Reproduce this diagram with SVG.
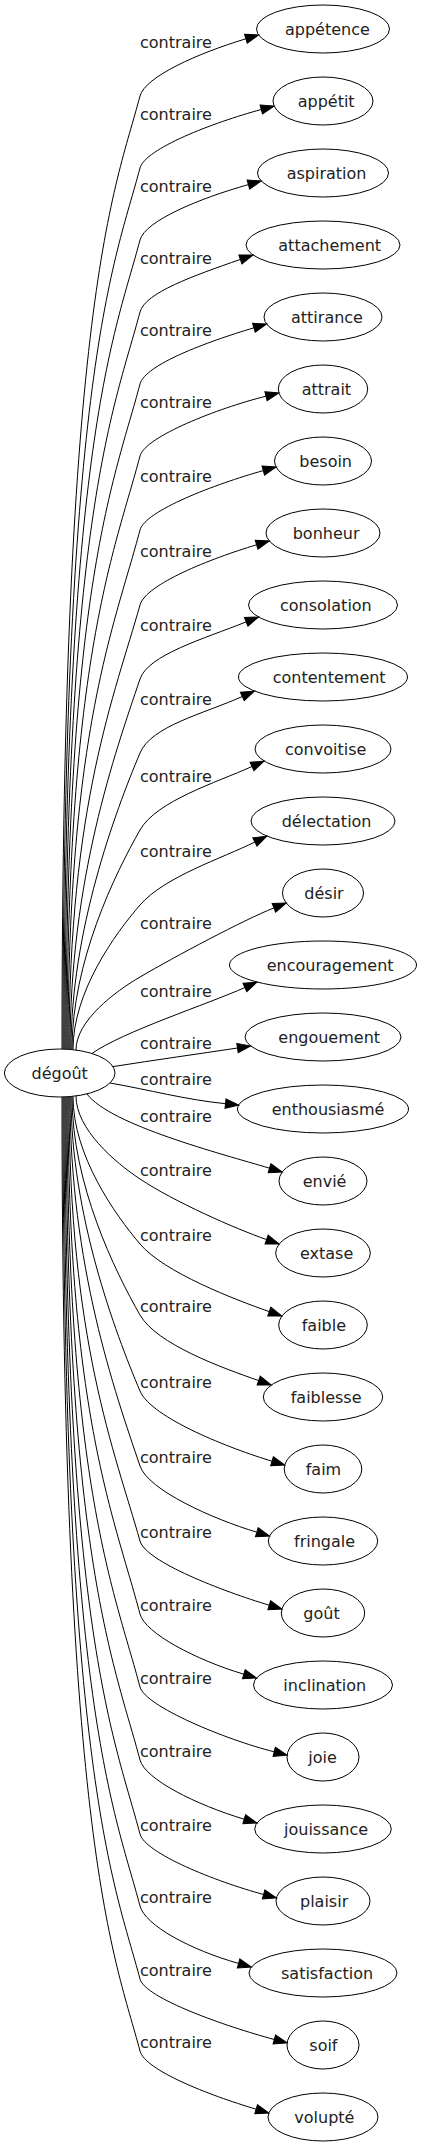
<svg xmlns="http://www.w3.org/2000/svg" width="422" height="2147" viewBox="0 0 422 2147">
<style>
.n ellipse{fill:none;stroke:#000;stroke-width:1}
text{font-family:"DejaVu Sans",sans-serif;font-size:16px;fill:#222}
#edges path{fill:none;stroke:#000;stroke-width:1;marker-end:url(#arr)}
</style>
<defs>
<marker id="arr" markerUnits="userSpaceOnUse" markerWidth="15" markerHeight="11" refX="0" refY="4.67" orient="auto" overflow="visible">
<path d="M0,0 L13.3,4.67 L0,9.33 Z" fill="#000" stroke="#000" stroke-width="1"/>
</marker>
</defs>
<rect width="422" height="2147" fill="#fff"/>
<g id="edges">
<path d="M62,1049 C62,296 115,191 140,96 C145.1,76.7 198,53.2 245.9,38.8"/>
<path d="M63,1049 C63,368 115,263 140,168 C145.1,148.7 213.05,122.55 261.3,109.5"/>
<path d="M64,1049 C64,440 115,335 140,240 C145.1,220.7 200.25,198.1 248.4,184.6"/>
<path d="M65,1049 C65,512 115,407 140,312 C145.1,292.7 193.2,275.9 240.4,259.4"/>
<path d="M66,1049 C66,584 115,479 140,384 C145.1,364.7 206,342.15 253.9,327.8"/>
<path d="M67,1049 C67,656 115,551 140,456 C145.1,436.7 217.5,408.3 266,396.2"/>
<path d="M68,1049 C68,730 115,625 140,530 C145.1,510.7 215.15,484.1 263.3,470.6"/>
<path d="M69,1049.5 C69,805 115,693.9 140,605 C145.85,584.2 209.95,558.8 256.6,544.8"/>
<path d="M70,1049.5 C70,879 115,753.1 140,679 C148.2,654.8 203.9,638.8 246.2,621.9"/>
<path d="M71,1049.5 C71,930.9 115,812.3 140,753 C151.4,725.9 203.5,713.9 242.3,696.5"/>
<path d="M72,1049.5 C72,961.7 115,873.9 140,830 C156.6,800.9 216.25,782.6 252,766.5"/>
<path d="M73,1049.5 C73,991.7 115,933.9 140,905 C164.5,876.7 222.6,858.1 254.9,842"/>
<path d="M76,1050 C76,1020.8 115,991.6 140,977 C175.6,956.2 243.2,920.2 273.9,907.9"/>
<path d="M92,1053.5 C122,1032 208.4,1003.9 244.9,987.5"/>
<path d="M113,1066.6 C155,1060 197.9,1054 237.5,1048"/>
<path d="M110,1083 C150,1090 185.7,1099.7 225.5,1103.7"/>
<path d="M87,1094 C110,1125 221.6,1153.8 269.5,1168.2"/>
<path d="M76,1096 C76,1129.2 115,1162.4 140,1179 C173.8,1201.5 235,1228.55 266.6,1239.6"/>
<path d="M73,1096.5 C73,1155.5 115,1214.5 140,1244 C164,1272.4 235.1,1299.7 269.3,1311.6"/>
<path d="M72,1096.5 C72,1183.9 115,1271.3 140,1315 C156.6,1344.1 221.7,1367.7 258.7,1380.6"/>
<path d="M71,1096.5 C71,1214.3 115,1332.1 140,1391 C151.5,1418.2 231.4,1449 272,1461.2"/>
<path d="M70,1096.5 C70,1266 115,1392.1 140,1466 C148.2,1490.2 213.1,1519.1 256.8,1532.2"/>
<path d="M69,1096.5 C69,1341 115,1452.1 140,1541 C145.85,1561.8 222.55,1591.2 269.2,1605.2"/>
<path d="M68,1097 C68,1414 115,1519 140,1614 C145.1,1633.3 195.9,1659.85 243.8,1674.2"/>
<path d="M67,1097 C67,1487 115,1592 140,1687 C145.1,1706.3 225.7,1739.7 274.2,1751.8"/>
<path d="M66,1097 C66,1560 115,1665 140,1760 C145.1,1779.3 196.3,1804.85 244.2,1819.2"/>
<path d="M65,1097 C65,1634 115,1739 140,1834 C145.1,1853.3 215.35,1881.45 263.6,1894.5"/>
<path d="M64,1097 C64,1706 115,1811 140,1906 C145.1,1925.3 190.45,1949.9 238.6,1963.4"/>
<path d="M63,1097 C63,1779 115,1884 140,1979 C145.1,1998.3 226.05,2026.45 274.3,2039.5"/>
<path d="M62,1097 C62,1851 115,1956 140,2051 C145.1,2070.3 208.2,2094.85 256.1,2109.2"/>
<text x="140" y="48">contraire</text>
<text x="140" y="120">contraire</text>
<text x="140" y="192">contraire</text>
<text x="140" y="264">contraire</text>
<text x="140" y="336">contraire</text>
<text x="140" y="408">contraire</text>
<text x="140" y="482">contraire</text>
<text x="140" y="557">contraire</text>
<text x="140" y="631">contraire</text>
<text x="140" y="705">contraire</text>
<text x="140" y="782">contraire</text>
<text x="140" y="857">contraire</text>
<text x="140" y="929">contraire</text>
<text x="140" y="997">contraire</text>
<text x="140" y="1049">contraire</text>
<text x="140" y="1085">contraire</text>
<text x="140" y="1122">contraire</text>
<text x="140" y="1176">contraire</text>
<text x="140" y="1241">contraire</text>
<text x="140" y="1312">contraire</text>
<text x="140" y="1388">contraire</text>
<text x="140" y="1463">contraire</text>
<text x="140" y="1538">contraire</text>
<text x="140" y="1611">contraire</text>
<text x="140" y="1684">contraire</text>
<text x="140" y="1757">contraire</text>
<text x="140" y="1831">contraire</text>
<text x="140" y="1903">contraire</text>
<text x="140" y="1976">contraire</text>
<text x="140" y="2048">contraire</text>
</g>
<g id="n-degout" class="n"><ellipse cx="59.7" cy="1073" rx="55.3" ry="24"/><text x="59.7" y="1078.5" text-anchor="middle">dégoût</text></g>
<g id="n0" class="n"><ellipse cx="323" cy="29" rx="66.5" ry="24"/><text x="285" y="34.5">appétence</text></g>
<g id="n1" class="n"><ellipse cx="323" cy="101" rx="50" ry="24"/><text x="297.7" y="106.5">appétit</text></g>
<g id="n2" class="n"><ellipse cx="323" cy="173" rx="65.5" ry="24"/><text x="286.7" y="178.5">aspiration</text></g>
<g id="n3" class="n"><ellipse cx="323" cy="245" rx="77" ry="24"/><text x="278.3" y="250.5">attachement</text></g>
<g id="n4" class="n"><ellipse cx="323" cy="317" rx="59" ry="24"/><text x="291" y="322.5">attirance</text></g>
<g id="n5" class="n"><ellipse cx="323" cy="389" rx="44.7" ry="24"/><text x="301.7" y="394.5">attrait</text></g>
<g id="n6" class="n"><ellipse cx="323" cy="461" rx="48.5" ry="24"/><text x="299.3" y="466.5">besoin</text></g>
<g id="n7" class="n"><ellipse cx="323" cy="533" rx="57" ry="24"/><text x="292.7" y="538.5">bonheur</text></g>
<g id="n8" class="n"><ellipse cx="323" cy="605" rx="74.5" ry="24"/><text x="280" y="610.5">consolation</text></g>
<g id="n9" class="n"><ellipse cx="323" cy="677" rx="84.5" ry="24"/><text x="272.7" y="682.5">contentement</text></g>
<g id="n10" class="n"><ellipse cx="323" cy="749" rx="68" ry="24"/><text x="285" y="754.5">convoitise</text></g>
<g id="n11" class="n"><ellipse cx="323" cy="821" rx="72" ry="24"/><text x="281.7" y="826.5">délectation</text></g>
<g id="n12" class="n"><ellipse cx="323" cy="893" rx="40.5" ry="24"/><text x="304.3" y="898.5">désir</text></g>
<g id="n13" class="n"><ellipse cx="323" cy="965" rx="93.5" ry="24"/><text x="266.7" y="970.5">encouragement</text></g>
<g id="n14" class="n"><ellipse cx="323" cy="1037" rx="78" ry="24"/><text x="278.3" y="1042.5">engouement</text></g>
<g id="n15" class="n"><ellipse cx="323" cy="1109" rx="85.5" ry="24"/><text x="271.7" y="1114.5">enthousiasmé</text></g>
<g id="n16" class="n"><ellipse cx="323" cy="1181" rx="44" ry="24"/><text x="302.7" y="1186.5">envié</text></g>
<g id="n17" class="n"><ellipse cx="323" cy="1253" rx="47.3" ry="24"/><text x="300" y="1258.5">extase</text></g>
<g id="n18" class="n"><ellipse cx="323" cy="1325" rx="44.3" ry="24"/><text x="301.7" y="1330.5">faible</text></g>
<g id="n19" class="n"><ellipse cx="323" cy="1397" rx="59.7" ry="24"/><text x="290.7" y="1402.5">faiblesse</text></g>
<g id="n20" class="n"><ellipse cx="323" cy="1469" rx="38.8" ry="24"/><text x="305.7" y="1474.5">faim</text></g>
<g id="n21" class="n"><ellipse cx="323" cy="1541" rx="54.7" ry="24"/><text x="294" y="1546.5">fringale</text></g>
<g id="n22" class="n"><ellipse cx="323" cy="1613" rx="41.7" ry="24"/><text x="303.3" y="1618.5">goût</text></g>
<g id="n23" class="n"><ellipse cx="323" cy="1685" rx="69.5" ry="24"/><text x="283.3" y="1690.5">inclination</text></g>
<g id="n24" class="n"><ellipse cx="323" cy="1757" rx="36" ry="24"/><text x="308.3" y="1762.5">joie</text></g>
<g id="n25" class="n"><ellipse cx="323" cy="1829" rx="68.3" ry="24"/><text x="284" y="1834.5">jouissance</text></g>
<g id="n26" class="n"><ellipse cx="323" cy="1901" rx="47" ry="24"/><text x="300" y="1906.5">plaisir</text></g>
<g id="n27" class="n"><ellipse cx="323" cy="1973" rx="74" ry="24"/><text x="281" y="1978.5">satisfaction</text></g>
<g id="n28" class="n"><ellipse cx="323" cy="2045" rx="36" ry="24"/><text x="309.3" y="2050.5">soif</text></g>
<g id="n29" class="n"><ellipse cx="323" cy="2117" rx="55" ry="24"/><text x="294.3" y="2122.5">volupté</text></g>
</svg>
